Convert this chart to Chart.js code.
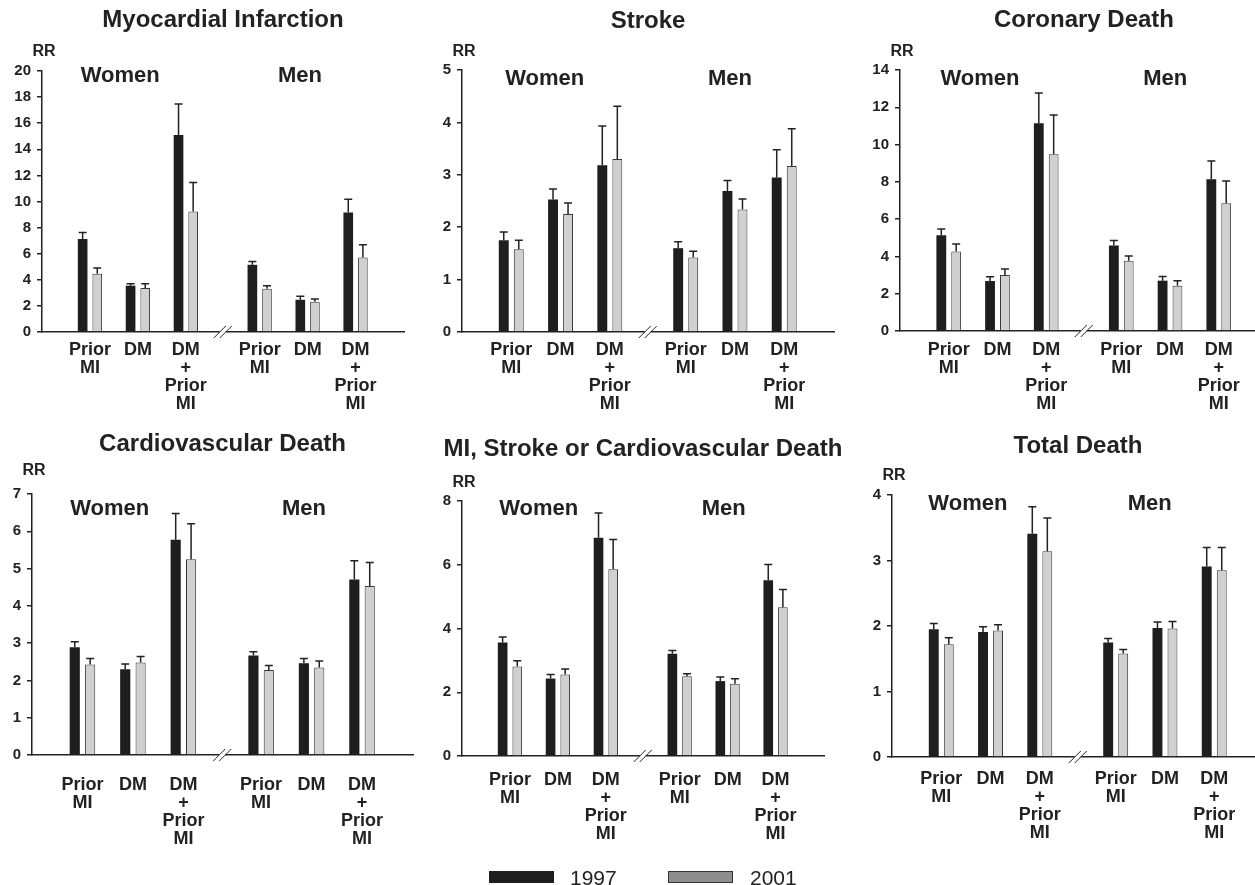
<!DOCTYPE html>
<html lang="en">
<head>
<meta charset="UTF-8">
<title>Relative risk, 1997 vs 2001</title>
<script src="https://cdn.jsdelivr.net/npm/chart.js"></script>
<style>
  html, body { margin: 0; padding: 0; background: #fff; }
  body { position: relative; width: 1255px; height: 885px; overflow: hidden;
         font-family: "Liberation Sans", Arial, Helvetica, sans-serif; color: #222; }
  canvas { position: absolute; }
  .key { position: absolute; height: 12px; width: 65px; box-sizing: border-box; }
  .key.y1997 { background: #1e1e1e; }
  .key.y2001 { background: #8e8e8e; border: 1px solid #333; }
  .keytxt { position: absolute; font-size: 21px; line-height: 21px; }
</style>
</head>
<body>

<canvas id="c0"></canvas>
<canvas id="c1"></canvas>
<canvas id="c2"></canvas>
<canvas id="c3"></canvas>
<canvas id="c4"></canvas>
<canvas id="c5"></canvas>

<!-- legend -->
<div class="key y1997" style="left:489px; top:871px;"></div>
<div class="keytxt" style="left:570px; top:867px;">1997</div>
<div class="key y2001" style="left:668px; top:871px;"></div>
<div class="keytxt" style="left:750px; top:867px;">2001</div>

<script>
// ---- data ----
const groups = ["Women", "Men"];
const categories = [["Prior", "MI"], ["DM"], ["DM", "+", "Prior", "MI"]];
const years = ["1997", "2001"];
const titles = ["Myocardial Infarction", "Stroke", "Coronary Death",
                "Cardiovascular Death", "MI, Stroke or Cardiovascular Death", "Total Death"];
const yMax = [20, 5, 14, 7, 8, 4];
const yStep = [2, 1, 2, 1, 2, 1];

// order: women Prior MI, DM, DM+Prior MI, men Prior MI, DM, DM+Prior MI
const miRR1997 = [7.12, 3.55, 15.10, 5.15, 2.47, 9.16];
const miUp1997 = [7.63, 3.70, 17.47, 5.41, 2.73, 10.18];
const miRR2001 = [4.46, 3.37, 9.23, 3.32, 2.32, 5.71];
const miUp2001 = [4.90, 3.70, 11.45, 3.55, 2.53, 6.68];

const strokeRR1997 = [1.75, 2.53, 3.18, 1.60, 2.69, 2.95];
const strokeUp1997 = [1.91, 2.73, 3.93, 1.72, 2.89, 3.48];
const strokeRR2001 = [1.58, 2.25, 3.30, 1.42, 2.34, 3.17];
const strokeUp2001 = [1.75, 2.46, 4.31, 1.54, 2.54, 3.88];

const corRR1997 = [5.13, 2.68, 11.14, 4.58, 2.70, 8.14];
const corUp1997 = [5.47, 2.91, 12.77, 4.85, 2.93, 9.12];
const corRR2001 = [4.27, 3.00, 9.48, 3.77, 2.43, 6.85];
const corUp2001 = [4.67, 3.33, 11.59, 4.02, 2.70, 8.05];

const cvRR1997 = [2.89, 2.30, 5.77, 2.67, 2.46, 4.71];
const cvUp1997 = [3.04, 2.44, 6.48, 2.77, 2.59, 5.21];
const cvRR2001 = [2.43, 2.48, 5.25, 2.28, 2.35, 4.53];
const cvUp2001 = [2.59, 2.64, 6.20, 2.40, 2.52, 5.16];

const mscRR1997 = [3.56, 2.43, 6.85, 3.21, 2.35, 5.51];
const mscUp1997 = [3.73, 2.56, 7.62, 3.31, 2.48, 6.01];
const mscRR2001 = [2.81, 2.56, 5.86, 2.50, 2.27, 4.67];
const mscUp2001 = [2.99, 2.73, 6.79, 2.58, 2.42, 5.22];

const totRR1997 = [1.95, 1.91, 3.41, 1.75, 1.97, 2.91];
const totUp1997 = [2.04, 1.99, 3.82, 1.81, 2.06, 3.20];
const totRR2001 = [1.72, 1.93, 3.14, 1.58, 1.96, 2.85];
const totUp2001 = [1.82, 2.02, 3.65, 1.64, 2.07, 3.20];

const rr1997 = [miRR1997, strokeRR1997, corRR1997, cvRR1997, mscRR1997, totRR1997];
const up1997 = [miUp1997, strokeUp1997, corUp1997, cvUp1997, mscUp1997, totUp1997];
const rr2001 = [miRR2001, strokeRR2001, corRR2001, cvRR2001, mscRR2001, totRR2001];
const up2001 = [miUp2001, strokeUp2001, corUp2001, cvUp2001, mscUp2001, totUp2001];

// ---- layout (pixels on the page) ----
const FONT = '"Liberation Sans", Arial, Helvetica, sans-serif';
const GAP = 0.54;       // extra space between women and men groups (in category units)
const BREAK_X = 3.77;
const X_MAX = 7.55;
const Y_AXIS_W = 40, X_AXIS_H = 100, SIDE = 40;

// L: y axis x, T: top of plot, B: zero line, R: end of x axis, tc: title centre y
const layout = [
  {L: 42,  T: 71,  B: 332, R: 404,  tc: 20,  pad: 9,  wx: 1.63, mx: 5.38, gdy: 5,  rdy: -19},
  {L: 462, T: 70,  B: 332, R: 834,  tc: 21,  pad: 9,  wx: 1.68, mx: 5.44, gdy: 9,  rdy: -18},
  {L: 900, T: 70,  B: 331, R: 1268, tc: 20,  pad: 10, wx: 1.64, mx: 5.44, gdy: 9,  rdy: -18},
  {L: 32,  T: 494, B: 755, R: 413,  tc: 444, pad: 21, wx: 1.54, mx: 5.39, gdy: 15, rdy: -23},
  {L: 462, T: 501, B: 756, R: 824,  tc: 449, pad: 15, wx: 1.60, mx: 5.46, gdy: 8,  rdy: -18},
  {L: 892, T: 495, B: 757, R: 1264, tc: 446, pad: 13, wx: 1.54, mx: 5.23, gdy: 9,  rdy: -19}
];

const xPos = (i) => i < 3 ? i + 1 : i + 1 + GAP;

Chart.defaults.font.family = FONT;
Chart.defaults.color = '#222';

// error bars, title, RR label, group names, axis break
const decor = {
  id: 'decor',
  afterDatasetsDraw(chart) {
    const {ctx} = chart;
    const y = chart.scales.y;
    ctx.save();
    ctx.strokeStyle = '#222';
    ctx.lineWidth = 1.5;
    chart.data.datasets.forEach((ds, i) => {
      chart.getDatasetMeta(i).data.forEach((bar, j) => {
        const top = y.getPixelForValue(ds.upper[j]);
        ctx.beginPath();
        ctx.moveTo(bar.x, bar.y);
        ctx.lineTo(bar.x, top);
        ctx.moveTo(bar.x - 4, top);
        ctx.lineTo(bar.x + 4, top);
        ctx.stroke();
      });
    });
    ctx.restore();
  },
  afterDraw(chart, args, opts) {
    const {ctx, chartArea} = chart;
    const x = chart.scales.x;
    ctx.save();
    ctx.fillStyle = '#222';
    ctx.textAlign = 'center';
    ctx.textBaseline = 'middle';
    ctx.font = 'bold 24px ' + FONT;
    ctx.fillText(opts.title, (chartArea.left + chartArea.right) / 2, chartArea.top - (opts.T - opts.tc));
    ctx.font = 'bold 16px ' + FONT;
    ctx.fillText('RR', chartArea.left + 2, chartArea.top + opts.rdy);
    ctx.font = 'bold 22px ' + FONT;
    ctx.fillText(groups[0], x.getPixelForValue(opts.wx), chartArea.top + opts.gdy);
    ctx.fillText(groups[1], x.getPixelForValue(opts.mx), chartArea.top + opts.gdy);

    const bx = x.getPixelForValue(BREAK_X), by = chartArea.bottom;
    ctx.fillStyle = '#fff';
    ctx.fillRect(bx - 3, by - 2, 6, 4);
    ctx.strokeStyle = '#222';
    ctx.lineWidth = 1;
    [-3, 3].forEach(d => {
      ctx.beginPath();
      ctx.moveTo(bx + d - 6, by + 6);
      ctx.lineTo(bx + d + 6, by - 6);
      ctx.stroke();
    });
    ctx.restore();
  }
};

layout.forEach((p, k) => {
  const canvas = document.getElementById('c' + k);
  const left = p.L - Y_AXIS_W - SIDE;
  const top = p.tc - 16;
  const w = Math.round(p.R + SIDE - left);
  const h = Math.round(p.B - top + X_AXIS_H);
  canvas.width = w;
  canvas.height = h;
  canvas.style.left = left + 'px';
  canvas.style.top = top + 'px';
  canvas.style.width = w + 'px';
  canvas.style.height = h + 'px';

  const points = (vals) => vals.map((v, i) => ({x: xPos(i), y: v}));

  new Chart(canvas.getContext('2d'), {
    type: 'bar',
    data: {
      datasets: [
        {
          label: years[0],
          data: points(rr1997[k]),
          upper: up1997[k],
          backgroundColor: '#1e1e1e',
          borderWidth: 0
        },
        {
          label: years[1],
          data: points(rr2001[k]),
          upper: up2001[k],
          backgroundColor: '#d0d0d0',
          borderColor: '#3a3a3a',
          borderWidth: 1
        }
      ]
    },
    options: {
      responsive: false,
      animation: false,
      categoryPercentage: 0.61,
      barPercentage: 0.66,
      layout: { padding: { top: p.T - top, left: SIDE, right: SIDE, bottom: 0 } },
      plugins: {
        legend: { display: false },
        tooltip: { enabled: false },
        title: { display: false },
        decor: Object.assign({ title: titles[k] }, p)
      },
      scales: {
        x: {
          type: 'linear',
          min: 0,
          max: X_MAX,
          offset: false,
          grid: { display: false, drawTicks: false },
          border: { display: true, color: '#222', width: 1.5 },
          afterBuildTicks: axis => { axis.ticks = categories.concat(categories).map((c, i) => ({value: xPos(i)})); },
          afterFit: axis => { axis.height = X_AXIS_H; },
          ticks: {
            autoSkip: false,
            maxRotation: 0,
            padding: p.pad,
            color: '#222',
            font: { size: 18, weight: 'bold', lineHeight: 1.0 },
            callback: (v, i) => categories[i % 3]
          }
        },
        y: {
          min: 0,
          max: yMax[k],
          grid: { display: true, drawOnChartArea: false, drawTicks: true, tickLength: 5, color: '#222', lineWidth: 1.5 },
          border: { display: true, color: '#222', width: 1.5 },
          afterFit: axis => { axis.width = Y_AXIS_W; },
          ticks: {
            stepSize: yStep[k],
            padding: 6,
            color: '#222',
            font: { size: 15, weight: 'bold' }
          }
        }
      }
    },
    plugins: [decor]
  });
});
</script>
</body>
</html>
